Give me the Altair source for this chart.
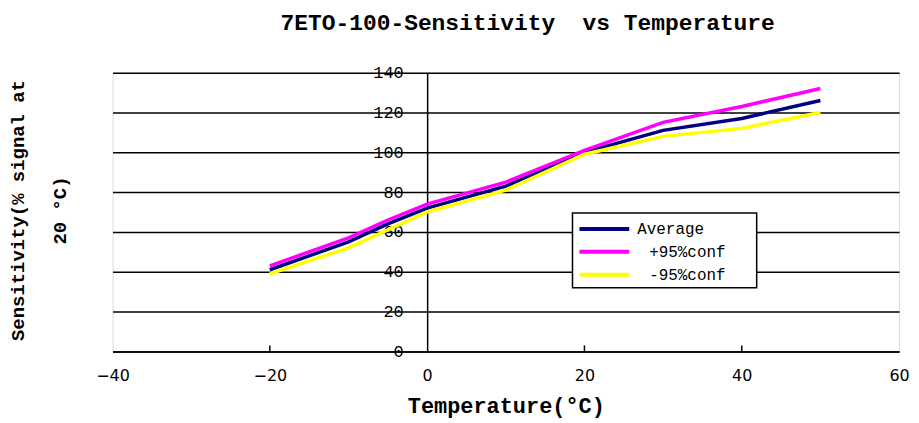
import altair as alt
import pandas as pd

# ---- data ----
temps = [-20, -10, -5, 0, 10, 20, 30, 40, 50]
average = [41, 55, 64, 72, 83, 100, 111, 117, 126]
plus95 = [43, 57, 66, 74, 85, 101, 115, 123, 132]
minus95 = [39, 52, 61, 70, 81, 99, 108, 112, 120]
series_names = ["Average", "+95%conf", "-95%conf"]
series_colors = ["#000080", "#FF00FF", "#FFFF00"]
x_tick_values = [-40, -20, 0, 20, 40, 60]
y_tick_values = [0, 20, 40, 60, 80, 100, 120, 140]
inner_x_ticks = [-20, 20, 40]

rows = []
for name, vals in zip(series_names, [average, plus95, minus95]):
    for i, (t, v) in enumerate(zip(temps, vals)):
        rows.append({"temp": t, "sens": v, "series": name, "order": i})
df = pd.DataFrame(rows)
ticks_df = pd.DataFrame({"temp": inner_x_ticks})
legend_df = pd.DataFrame({"series": series_names, "idx": list(range(len(series_names)))})

W, H = 790, 280
# legend box layout (pixels inside the plot area)
LX0, LX1, LY0, LY1 = 462, 647, 141, 216
ROW0, ROWSTEP = 157, 23

color_scale = alt.Scale(domain=series_names, range=series_colors)

x_enc = alt.X(
    "temp:Q",
    scale=alt.Scale(domain=[-40, 60], nice=False),
    axis=alt.Axis(
        values=x_tick_values, grid=False, ticks=False, labelFlush=False,
        domainColor="black", domainWidth=1.5,
        labelFont="DejaVu Sans", labelFontSize=16, labelColor="black",
        labelPadding=16,
        title="Temperature(°C)", titleFont="Liberation Mono", titleFontSize=22,
        titleFontWeight="bold", titleColor="black", titlePadding=12,
    ),
)
y_enc = alt.Y(
    "sens:Q",
    scale=alt.Scale(domain=[0, 140], nice=False),
    axis=alt.Axis(
        values=y_tick_values, grid=True, gridColor="black", gridWidth=1.5,
        gridOpacity=1, ticks=False, domainColor="black", domainWidth=1.5,
        offset=-316,
        labelFont="Liberation Mono", labelFontSize=17, labelColor="black",
        labelPadding=24,
        title=["Sensitivity(% signal at", "20 °C)"],
        titleFont="Liberation Mono", titleFontSize=19, titleFontWeight="bold",
        titleColor="black", titleAngle=-90, titleX=-420, titleY=138,
        titleBaseline="top", titleAlign="center", titleLineHeight=42,
    ),
)

lines = alt.Chart(df).mark_line(strokeWidth=3.5).encode(
    x=x_enc,
    y=y_enc,
    order="order:Q",
    color=alt.Color("series:N", scale=color_scale, sort=series_names, legend=None),
)

inner_ticks = alt.Chart(ticks_df).mark_rule(color="black", strokeWidth=1.5).encode(
    x="temp:Q",
    y=alt.value(H - 6),
    y2=alt.value(H),
)

legend_box = alt.Chart(pd.DataFrame({"k": [0]})).mark_rect(
    fill="white", stroke="black", strokeWidth=1.5
).encode(
    x=alt.value(LX0), x2=alt.value(LX1), y=alt.value(LY0), y2=alt.value(LY1)
)

legend_base = alt.Chart(legend_df).transform_calculate(
    py=f"{ROW0} + {ROWSTEP} * datum.idx",
    px=f"{LX0} + (datum.idx == 0 ? 65 : 77)",
)

legend_lines = legend_base.mark_rule(strokeWidth=4).encode(
    x=alt.value(LX0 + 7),
    x2=alt.value(LX0 + 57),
    y=alt.Y("py:Q", scale=None),
    color=alt.Color("series:N", scale=color_scale, legend=None),
)

legend_text = legend_base.mark_text(
    align="left", baseline="middle", font="Liberation Mono", fontSize=16, color="black"
).encode(
    x=alt.X("px:Q", scale=None),
    y=alt.Y("py:Q", scale=None),
    text="series:N",
)

chart = (
    alt.layer(lines, inner_ticks, legend_box, legend_lines, legend_text)
    .properties(
        width=W, height=H,
        title=alt.TitleParams(
            text="7ETO-100-Sensitivity\u00a0 vs Temperature",
            font="Liberation Mono", fontSize=23, fontWeight="bold",
            color="black", anchor="middle", dx=22, offset=29,
        ),
        autosize=alt.AutoSizeParams(type="none"),
        padding={"left": 105, "top": 64, "right": 12, "bottom": 70},
    )
    .configure_view(stroke="black", strokeWidth=1.5)
    .configure(background="white")
)

chart.save("out.html", embed_options={"renderer": "svg", "actions": False})
